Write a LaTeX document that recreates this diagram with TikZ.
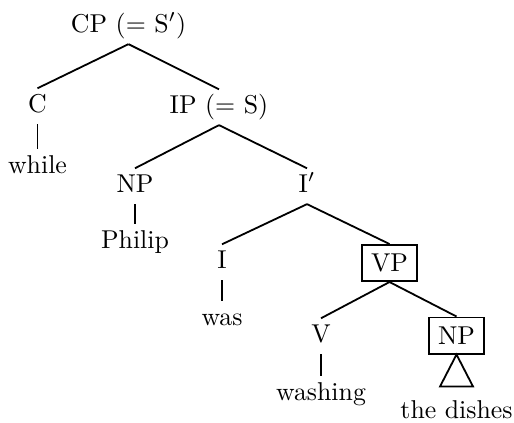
\documentclass[tikz,border=0pt]{standalone}
\begin{document}
\begin{tikzpicture}[x=0.3876pt,y=-0.3876pt,
  lab/.style={anchor=base,inner sep=2pt,text height=7pt,text depth=2.5pt},
  boxed/.style={draw,line width=0.7pt,inner xsep=3.5pt,inner ysep=3.6pt,text height=6.83pt,text depth=0pt},
  branch/.style={line width=0.7pt}]
\useasboundingbox (0,0) rectangle (514,422);
% nodes
\node[lab] (cp) at (128.5,32) {CP (= S$'$)};
\node[lab] (c) at (37.5,112) {C};
\node[lab] (while) at (37.5,173) {while};
\node[lab] (ip) at (219,113) {IP (= S)};
\node[lab] (np1) at (135,192) {NP};
\node[lab] (philip) at (135,248) {Philip};
\node[lab] (ibar) at (307,192) {I$'$};
\node[lab] (i) at (222,268) {I};
\node[lab] (was) at (222,325) {was};
\node[boxed] (vp) at (389.5,263) {VP};
\node[lab] (v) at (321,342) {V};
\node[lab] (washing) at (321,400) {washing};
\node[boxed] (np2) at (456.5,335.5) {NP};
\node[lab] (dishes) at (456.5,418) {the dishes};
% branches
\draw[branch] (cp.south) -- (c.north);
\draw[branch] (cp.south) -- (ip.north);
\draw[branch] (c.south) -- (while.north);
\draw[branch] (ip.south) -- (np1.north);
\draw[branch] (ip.south) -- (ibar.north);
\draw[branch] (np1.south) -- (philip.north);
\draw[branch] (ibar.south) -- (i.north);
\draw[branch] (ibar.south) -- (vp.north);
\draw[branch] (i.south) -- (was.north);
\draw[branch] (vp.south) -- (v.north);
\draw[branch] (vp.south) -- (np2.north);
\draw[branch] (v.south) -- (washing.north);
\draw[branch] (np2.south) -- ++(-16.5,32) -- ++(33,0) -- cycle;
\end{tikzpicture}
\end{document}
